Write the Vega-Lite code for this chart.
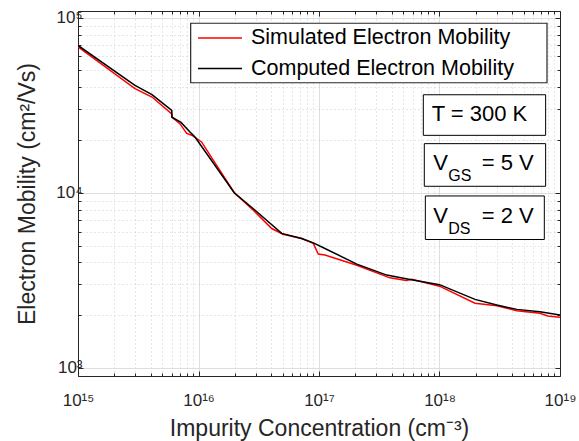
{
  "$schema": "https://vega.github.io/schema/vega-lite/v6.json",
  "autosize": {"type": "none"},
  "width": 482,
  "height": 365,
  "padding": {"left": 78, "top": 11, "right": 19, "bottom": 65},
  "background": "white",
  "config": {
    "font": "Liberation Sans",
    "view": {"stroke": null},
    "axis": {
      "domainColor": "#262626",
      "domainWidth": 1,
      "tickColor": "#262626",
      "labelColor": "#262626",
      "labelFont": "Liberation Sans",
      "labelFontSize": 17,
      "titleFont": "Liberation Sans",
      "titleFontSize": 23,
      "titleFontWeight": "normal",
      "titleColor": "#262626",
      "labelOverlap": false,
      "labelFlush": false
    }
  },
  "datasets": {
    "curves": [
      {"series": "Simulated Electron Mobility", "conc": 1e15, "mobility": 68000},
      {"series": "Simulated Electron Mobility", "conc": 2.97e15, "mobility": 39300},
      {"series": "Simulated Electron Mobility", "conc": 4.11e15, "mobility": 35200},
      {"series": "Simulated Electron Mobility", "conc": 6.0e15, "mobility": 28200},
      {"series": "Simulated Electron Mobility", "conc": 6.02e15, "mobility": 27000},
      {"series": "Simulated Electron Mobility", "conc": 7.0e15, "mobility": 24800},
      {"series": "Simulated Electron Mobility", "conc": 7.98e15, "mobility": 21800},
      {"series": "Simulated Electron Mobility", "conc": 8.8e15, "mobility": 21300},
      {"series": "Simulated Electron Mobility", "conc": 1.06e16, "mobility": 19500},
      {"series": "Simulated Electron Mobility", "conc": 1.98e16, "mobility": 10000},
      {"series": "Simulated Electron Mobility", "conc": 2.85e16, "mobility": 7950},
      {"series": "Simulated Electron Mobility", "conc": 4.05e16, "mobility": 6250},
      {"series": "Simulated Electron Mobility", "conc": 5.02e16, "mobility": 5800},
      {"series": "Simulated Electron Mobility", "conc": 7.18e16, "mobility": 5480},
      {"series": "Simulated Electron Mobility", "conc": 8.97e16, "mobility": 5140},
      {"series": "Simulated Electron Mobility", "conc": 9.86e16, "mobility": 4470},
      {"series": "Simulated Electron Mobility", "conc": 1.12e17, "mobility": 4410},
      {"series": "Simulated Electron Mobility", "conc": 2.06e17, "mobility": 3860},
      {"series": "Simulated Electron Mobility", "conc": 3.88e17, "mobility": 3270},
      {"series": "Simulated Electron Mobility", "conc": 5.3e17, "mobility": 3160},
      {"series": "Simulated Electron Mobility", "conc": 5.9e17, "mobility": 3210},
      {"series": "Simulated Electron Mobility", "conc": 1e18, "mobility": 2930},
      {"series": "Simulated Electron Mobility", "conc": 1.97e18, "mobility": 2340},
      {"series": "Simulated Electron Mobility", "conc": 2.99e18, "mobility": 2265},
      {"series": "Simulated Electron Mobility", "conc": 4.38e18, "mobility": 2120},
      {"series": "Simulated Electron Mobility", "conc": 6.82e18, "mobility": 2050},
      {"series": "Simulated Electron Mobility", "conc": 7.9e18, "mobility": 1980},
      {"series": "Simulated Electron Mobility", "conc": 1e19, "mobility": 1945},
      {"series": "Computed Electron Mobility", "conc": 1e15, "mobility": 69300},
      {"series": "Computed Electron Mobility", "conc": 2.97e15, "mobility": 41000},
      {"series": "Computed Electron Mobility", "conc": 4.11e15, "mobility": 36300},
      {"series": "Computed Electron Mobility", "conc": 6.0e15, "mobility": 29500},
      {"series": "Computed Electron Mobility", "conc": 6.02e15, "mobility": 27000},
      {"series": "Computed Electron Mobility", "conc": 7.16e15, "mobility": 25200},
      {"series": "Computed Electron Mobility", "conc": 8.5e15, "mobility": 22200},
      {"series": "Computed Electron Mobility", "conc": 9.35e15, "mobility": 20800},
      {"series": "Computed Electron Mobility", "conc": 1.98e16, "mobility": 10000},
      {"series": "Computed Electron Mobility", "conc": 2.95e16, "mobility": 7950},
      {"series": "Computed Electron Mobility", "conc": 4.9e16, "mobility": 5860},
      {"series": "Computed Electron Mobility", "conc": 7.18e16, "mobility": 5480},
      {"series": "Computed Electron Mobility", "conc": 8.97e16, "mobility": 5175},
      {"series": "Computed Electron Mobility", "conc": 1.12e17, "mobility": 4810},
      {"series": "Computed Electron Mobility", "conc": 2.06e17, "mobility": 3915},
      {"series": "Computed Electron Mobility", "conc": 3.65e17, "mobility": 3390},
      {"series": "Computed Electron Mobility", "conc": 5.69e17, "mobility": 3200},
      {"series": "Computed Electron Mobility", "conc": 1e18, "mobility": 2990},
      {"series": "Computed Electron Mobility", "conc": 1.97e18, "mobility": 2463},
      {"series": "Computed Electron Mobility", "conc": 2.99e18, "mobility": 2286},
      {"series": "Computed Electron Mobility", "conc": 4.38e18, "mobility": 2160},
      {"series": "Computed Electron Mobility", "conc": 6.82e18, "mobility": 2093},
      {"series": "Computed Electron Mobility", "conc": 1e19, "mobility": 2005}
    ]
  },
  "resolve": {"axis": {"x": "independent", "y": "independent"}},
  "layer": [
    {
      "data": {"name": "curves"},
      "transform": [{"filter": "datum.series == 'Simulated Electron Mobility'"}],
      "mark": {"type": "line", "strokeWidth": 1.5, "clip": true},
      "encoding": {
        "x": {
          "field": "conc", "type": "quantitative",
          "scale": {"type": "log", "domain": [1e15, 1e19], "nice": false},
          "axis": {
            "orient": "bottom",
            "title": "Impurity Concentration (cm⁻³)",
            "titlePadding": 7,
            "values": [1e15,2e15,3e15,4e15,5e15,6e15,7e15,8e15,9e15,1e16,2e16,3e16,4e16,5e16,6e16,7e16,8e16,9e16,1e17,2e17,3e17,4e17,5e17,6e17,7e17,8e17,9e17,1e18,2e18,3e18,4e18,5e18,6e18,7e18,8e18,9e18,1e19],
            "labelExpr": "datum.value == 1e15 ? '10¹⁵' : datum.value == 1e16 ? '10¹⁶' : datum.value == 1e17 ? '10¹⁷' : datum.value == 1e18 ? '10¹⁸' : datum.value == 1e19 ? '10¹⁹' : ''",
            "labelPadding": 21,
            "tickSize": {"condition": {"test": "abs(log(datum.value)/LN10 - round(log(datum.value)/LN10)) < 1e-6", "value": -5}, "value": -3},
            "grid": true,
            "gridColor": {"condition": {"test": "abs(log(datum.value)/LN10 - round(log(datum.value)/LN10)) < 1e-6", "value": "#dedede"}, "value": "#cfcfcf"},
            "gridDash": {"condition": {"test": "abs(log(datum.value)/LN10 - round(log(datum.value)/LN10)) < 1e-6", "value": []}, "value": [1, 3]}
          }
        },
        "y": {
          "field": "mobility", "type": "quantitative",
          "scale": {"type": "log", "domain": [900, 109000], "nice": false},
          "axis": {
            "orient": "left",
            "title": "Electron Mobility (cm²/Vs)",
            "titlePadding": 16,
            "values": [1000,2000,3000,4000,5000,6000,7000,8000,9000,10000,20000,30000,40000,50000,60000,70000,80000,90000,100000],
            "labelExpr": "datum.value == 1000 ? '10³' : datum.value == 10000 ? '10⁴' : datum.value == 100000 ? '10⁵' : ''",
            "labelPadding": 1,
            "tickSize": {"condition": {"test": "abs(log(datum.value)/LN10 - round(log(datum.value)/LN10)) < 1e-6", "value": -5}, "value": -3},
            "grid": true,
            "gridColor": {"condition": {"test": "abs(log(datum.value)/LN10 - round(log(datum.value)/LN10)) < 1e-6", "value": "#dedede"}, "value": "#cfcfcf"},
            "gridDash": {"condition": {"test": "abs(log(datum.value)/LN10 - round(log(datum.value)/LN10)) < 1e-6", "value": []}, "value": [1, 3]}
          }
        },
        "color": {
          "field": "series", "type": "nominal",
          "scale": {"domain": ["Simulated Electron Mobility", "Computed Electron Mobility"], "range": ["#ff0000", "#000000"]},
          "legend": {
            "orient": "none", "legendX": 125, "legendY": 10,
            "title": null,
            "symbolType": "M-2,0L2,0", "symbolSize": 484, "symbolStrokeWidth": 1.5,
            "labelFont": "Liberation Sans", "labelFontSize": 21.5, "labelColor": "#000000",
            "labelLimit": 400,
            "labelOffset": 19, "rowPadding": 7.5,
            "padding": 5
          }
        }
      }
    },
    {
      "data": {"name": "curves"},
      "transform": [{"filter": "datum.series == 'Computed Electron Mobility'"}],
      "mark": {"type": "line", "strokeWidth": 1.5, "clip": true},
      "encoding": {
        "x": {
          "field": "conc", "type": "quantitative",
          "axis": {
            "orient": "top", "title": null, "labels": false, "grid": false,
            "values": [1e15,2e15,3e15,4e15,5e15,6e15,7e15,8e15,9e15,1e16,2e16,3e16,4e16,5e16,6e16,7e16,8e16,9e16,1e17,2e17,3e17,4e17,5e17,6e17,7e17,8e17,9e17,1e18,2e18,3e18,4e18,5e18,6e18,7e18,8e18,9e18,1e19],
            "tickSize": {"condition": {"test": "abs(log(datum.value)/LN10 - round(log(datum.value)/LN10)) < 1e-6", "value": -5}, "value": -3}
          }
        },
        "y": {
          "field": "mobility", "type": "quantitative",
          "axis": {
            "orient": "right", "title": null, "labels": false, "grid": false,
            "values": [1000,2000,3000,4000,5000,6000,7000,8000,9000,10000,20000,30000,40000,50000,60000,70000,80000,90000,100000],
            "tickSize": {"condition": {"test": "abs(log(datum.value)/LN10 - round(log(datum.value)/LN10)) < 1e-6", "value": -5}, "value": -3}
          }
        },
        "color": {"field": "series", "type": "nominal"}
      }
    },
    {
      "data": {"values": [{}]},
      "mark": {"type": "rect", "fill": "white", "stroke": "#262626", "strokeWidth": 1.2},
      "encoding": {
        "x": {"datum": 8.61e15, "type": "quantitative", "axis": null},
        "x2": {"datum": 7.8e18},
        "y": {"datum": 92800, "type": "quantitative", "axis": null},
        "y2": {"datum": 42460}
      }
    },
    {
      "data": {"values": [{}]},
      "mark": {"type": "rect", "fill": "white", "stroke": "#000000", "strokeWidth": 1},
      "encoding": {
        "x": {"datum": 7.34e17, "type": "quantitative", "axis": null},
        "x2": {"datum": 7.6e18},
        "y": {"datum": 36260, "type": "quantitative", "axis": null},
        "y2": {"datum": 21270}
      }
    },
    {
      "data": {"values": [{}]},
      "mark": {"type": "rect", "fill": "white", "stroke": "#000000", "strokeWidth": 1},
      "encoding": {
        "x": {"datum": 7.48e17, "type": "quantitative", "axis": null},
        "x2": {"datum": 7.6e18},
        "y": {"datum": 19070, "type": "quantitative", "axis": null},
        "y2": {"datum": 10890}
      }
    },
    {
      "data": {"values": [{}]},
      "mark": {"type": "rect", "fill": "white", "stroke": "#000000", "strokeWidth": 1},
      "encoding": {
        "x": {"datum": 7.63e17, "type": "quantitative", "axis": null},
        "x2": {"datum": 7.41e18},
        "y": {"datum": 9590, "type": "quantitative", "axis": null},
        "y2": {"datum": 5412}
      }
    },
    {
      "data": {"values": [{}]},
      "mark": {"type": "text", "text": "T = 300 K", "align": "left", "baseline": "middle", "fontSize": 22, "color": "#000000", "font": "Liberation Sans"},
      "encoding": {
        "x": {"datum": 8.61e17, "type": "quantitative", "axis": null},
        "y": {"datum": 28010, "type": "quantitative", "axis": null}
      }
    },
    {
      "data": {"values": [{}]},
      "mark": {"type": "text", "text": "V", "align": "left", "baseline": "middle", "fontSize": 22, "color": "#000000", "font": "Liberation Sans"},
      "encoding": {
        "x": {"datum": 8.88e17, "type": "quantitative", "axis": null},
        "y": {"datum": 14820, "type": "quantitative", "axis": null}
      }
    },
    {
      "data": {"values": [{}]},
      "mark": {"type": "text", "text": "GS", "align": "left", "baseline": "middle", "fontSize": 16, "dx": 15, "dy": 13, "color": "#000000", "font": "Liberation Sans"},
      "encoding": {
        "x": {"datum": 8.88e17, "type": "quantitative", "axis": null},
        "y": {"datum": 14820, "type": "quantitative", "axis": null}
      }
    },
    {
      "data": {"values": [{}]},
      "mark": {"type": "text", "text": "= 5 V", "align": "left", "baseline": "middle", "fontSize": 22, "dx": 48.5, "color": "#000000", "font": "Liberation Sans"},
      "encoding": {
        "x": {"datum": 8.88e17, "type": "quantitative", "axis": null},
        "y": {"datum": 14820, "type": "quantitative", "axis": null}
      }
    },
    {
      "data": {"values": [{}]},
      "mark": {"type": "text", "text": "V", "align": "left", "baseline": "middle", "fontSize": 22, "color": "#000000", "font": "Liberation Sans"},
      "encoding": {
        "x": {"datum": 8.88e17, "type": "quantitative", "axis": null},
        "y": {"datum": 7393, "type": "quantitative", "axis": null}
      }
    },
    {
      "data": {"values": [{}]},
      "mark": {"type": "text", "text": "DS", "align": "left", "baseline": "middle", "fontSize": 16, "dx": 15, "dy": 13, "color": "#000000", "font": "Liberation Sans"},
      "encoding": {
        "x": {"datum": 8.88e17, "type": "quantitative", "axis": null},
        "y": {"datum": 7393, "type": "quantitative", "axis": null}
      }
    },
    {
      "data": {"values": [{}]},
      "mark": {"type": "text", "text": "= 2 V", "align": "left", "baseline": "middle", "fontSize": 22, "dx": 48.5, "color": "#000000", "font": "Liberation Sans"},
      "encoding": {
        "x": {"datum": 8.88e17, "type": "quantitative", "axis": null},
        "y": {"datum": 7393, "type": "quantitative", "axis": null}
      }
    }
  ]
}
